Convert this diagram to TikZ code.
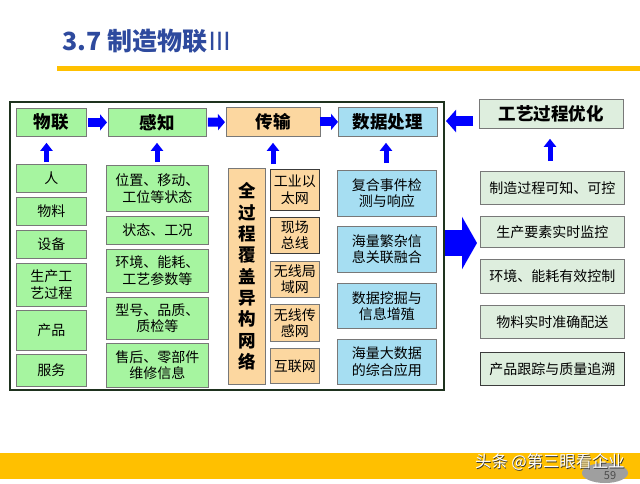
\documentclass[tikz,border=0pt]{standalone}
\usepackage{fontspec}
\setmainfont{Noto Sans CJK SC}
\usetikzlibrary{arrows.meta}
\definecolor{gfill}{RGB}{166,245,160}
\definecolor{ofill}{RGB}{252,215,160}
\definecolor{bfill}{RGB}{166,222,242}
\definecolor{pfill}{RGB}{222,238,222}
\definecolor{arrblue}{RGB}{0,0,255}
\definecolor{titleblue}{RGB}{46,74,158}
\definecolor{bandyellow}{RGB}{255,192,0}
\definecolor{boxline}{RGB}{120,120,120}
\definecolor{darkline}{RGB}{60,60,60}
\definecolor{frameline}{RGB}{30,50,30}
\tikzset{
  basebox/.style={draw=boxline, line width=0.8pt, inner sep=0pt, anchor=north west, align=center, font=\fontsize{14}{16.5}\selectfont},
  gbox/.style={basebox, fill=gfill},
  obox/.style={basebox, fill=ofill},
  bbox/.style={basebox, fill=bfill},
  pbox/.style={basebox, fill=pfill},
  hdr/.style={font=\fontsize{17.5}{20}\selectfont\bfseries},
  harr/.style={draw=arrblue, line width=9pt, -{Triangle[width=16pt,length=7pt]}},
  uarr/.style={draw=arrblue, line width=5pt, -{Triangle[width=12pt,length=8pt]}},
  larr/.style={draw=arrblue, line width=10pt, -{Triangle[width=22pt,length=10pt]}},
  bigarr/.style={draw=arrblue, line width=26pt, -{Triangle[width=52pt,length=15pt]}},
}
\begin{document}
\begin{tikzpicture}[x=1pt,y=-1pt]
\useasboundingbox (0,0) rectangle (640,483);
\fill[white] (0,0) rectangle (640,483);
% title
\node[anchor=west, text=titleblue, font=\fontsize{25}{28}\selectfont\bfseries, inner sep=0pt] (title) at (62,41) {3.7 制造物联{\mdseries Ⅲ}};
\fill[bandyellow] (57,66) rectangle (640,71);
% main frame
\node[draw=frameline, line width=1.8pt, anchor=north west, minimum width=434pt, minimum height=288pt, inner sep=0pt] (main) at (9,101) {};
% headers
\node[gbox, hdr, minimum width=70pt, minimum height=28pt] (wl) at (16,108) {物联};
\node[gbox, hdr, minimum width=98pt, minimum height=28pt] (gz) at (108,108) {感知};
\node[obox, hdr, minimum width=94pt, minimum height=29pt] (cs) at (226,107) {传输};
\node[bbox, hdr, minimum width=99pt, minimum height=29pt] (sj) at (338,107) {数据处理};
\draw[harr, shorten <=1pt, shorten >=1pt] (wl) -- (gz);
\draw[harr, shorten <=1pt, shorten >=1pt] (gz) -- (cs);
\draw[harr, shorten <=-1pt] (cs) -- (sj);
% column 1
\node[gbox, minimum width=70pt, minimum height=28pt] (c1a) at (16,164) {人};
\node[gbox, minimum width=70pt, minimum height=28pt] (c1b) at (16,197) {物料};
\node[gbox, minimum width=70pt, minimum height=28pt] (c1c) at (16,230) {设备};
\node[gbox, minimum width=70pt, minimum height=43pt] (c1d) at (16,263) {生产工\\艺过程};
\node[gbox, minimum width=70pt, minimum height=40pt] (c1e) at (16,310) {产品};
\node[gbox, minimum width=70pt, minimum height=32pt] (c1f) at (16,354) {服务};
% column 2
\node[gbox, minimum width=102pt, minimum height=46pt] (c2a) at (106,165) {位置、移动、\\工位等状态};
\node[gbox, minimum width=102pt, minimum height=28pt] (c2b) at (106,216) {状态、工况};
\node[gbox, minimum width=102pt, minimum height=43pt] (c2c) at (106,249) {环境、能耗、\\工艺参数等};
\node[gbox, minimum width=102pt, minimum height=42pt] (c2d) at (106,297) {型号、品质、\\质检等};
\node[gbox, minimum width=102pt, minimum height=44pt] (c2e) at (106,343) {售后、零部件\\维修信息};
% column 3
\node[obox, font=\fontsize{17.5}{21.3}\selectfont\bfseries, minimum width=37pt, minimum height=216pt] (c3) at (228,168) {全\\过\\程\\覆\\盖\\异\\构\\网\\络};
\node[obox, draw=darkline, minimum width=49pt, minimum height=41pt] (c3a) at (270,169) {工业以\\太网};
\node[obox, draw=darkline, minimum width=49pt, minimum height=36pt] (c3b) at (270,217) {现场\\总线};
\node[obox, minimum width=49pt, minimum height=36pt] (c3c) at (270,261) {无线局\\域网};
\node[obox, minimum width=49pt, minimum height=37pt] (c3d) at (270,304) {无线传\\感网};
\node[obox, minimum width=49pt, minimum height=35pt] (c3e) at (270,348) {互联网};
% column 4
\node[bbox, minimum width=99pt, minimum height=46pt] (c4a) at (337,170) {复合事件检\\测与响应};
\node[bbox, minimum width=99pt, minimum height=46pt] (c4b) at (337,226) {海量繁杂信\\息关联融合};
\node[bbox, minimum width=99pt, minimum height=45pt] (c4c) at (337,283) {数据挖掘与\\信息增殖};
\node[bbox, minimum width=99pt, minimum height=45pt] (c4d) at (337,339) {海量大数据\\的综合应用};
% up arrows
\draw[uarr, shorten <=2pt, shorten >=6pt] (c1a.north -| 46.5,0) -- (wl.south -| 46.5,0);
\draw[uarr, shorten <=3pt, shorten >=6pt] (c2a.north -| 157,0) -- (gz.south -| 157,0);
\draw[uarr, shorten <=5pt, shorten >=6pt] (c3a.north -| 273,0) -- (cs.south -| 273,0);
\draw[uarr, shorten <=7pt, shorten >=6pt] (c4a.north -| 386,0) -- (sj.south -| 386,0);
% right side
\node[pbox, hdr, minimum width=144pt, minimum height=29pt] (gy) at (479,99) {工艺过程优化};
\node[pbox, minimum width=144pt, minimum height=33pt] (r1) at (480,171) {制造过程可知、可控};
\node[pbox, minimum width=144pt, minimum height=31pt] (r2) at (480,216) {生产要素实时监控};
\node[pbox, minimum width=144pt, minimum height=34pt] (r3) at (480,259) {环境、能耗有效控制};
\node[pbox, minimum width=144pt, minimum height=33pt] (r4) at (480,305) {物料实时准确配送};
\node[pbox, draw=darkline, minimum width=144pt, minimum height=33pt] (r5) at (480,352) {产品跟踪与质量追溯};
\draw[uarr, shorten <=10pt, shorten >=10pt] (r1.north -| 550,0) -- (gy.south -| 550,0);
\coordinate (la) at (473,121);
\coordinate (lb) at (446,121);
\draw[larr] (la) -- (lb);
\coordinate (ba) at (445,243);
\coordinate (bb) at (477,243);
\draw[bigarr] (ba) -- (bb);
% bottom band
\fill[bandyellow] (0,453) rectangle (640,479);
\fill[gray!75] (605,473) ellipse [x radius=23pt, y radius=10pt];
\node[font=\fontsize{11}{11}\selectfont, text=black!70, inner sep=0pt] (pg) at (610,475.5) {59};
\node[font=\fontsize{16.3}{16}\selectfont, text=black!80, anchor=west, inner sep=0pt] (wm0) at (475.7,462.7) {头条 @第三眼看企业};
\node[font=\fontsize{16.3}{16}\selectfont, text=white, anchor=west, inner sep=0pt] (wm) at (475,462) {头条 @第三眼看企业};
\end{tikzpicture}
\end{document}
